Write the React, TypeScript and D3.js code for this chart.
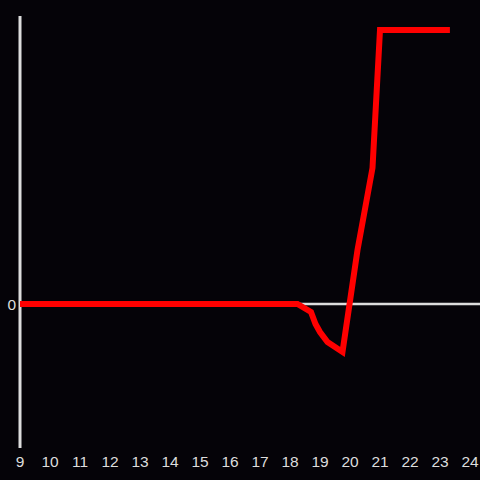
import React, { useEffect, useRef } from "react";
import * as d3 from "d3";

const xValues = [9, 18.25, 18.7, 18.85, 19.0, 19.25, 19.75, 20.25, 20.75, 21.0, 23.33];
const yValues = [0, 0, -8, -20, -28, -38, -48, 54, 136, 274, 274];
const xTicks = [9, 10, 11, 12, 13, 14, 15, 16, 17, 18, 19, 20, 21, 22, 23, 24];
const yTicks = [0];

export default function App() {
  const ref = useRef<SVGSVGElement>(null);
  useEffect(() => {
    const svg = d3.select(ref.current);
    svg.selectAll("*").remove();
    const W = 480, H = 480;
    const x = d3.scaleLinear().domain([9, 24]).range([20, 470]);
    const y = d3.scaleLinear().domain([-144, 288]).range([448, 16]);

    svg.append("rect").attr("width", W).attr("height", H).attr("fill", "#050308");

    svg.append("line")
      .attr("x1", x(9)).attr("x2", 480)
      .attr("y1", y(0)).attr("y2", y(0))
      .attr("stroke", "#dddddd").attr("stroke-width", 2.5);

    svg.append("line")
      .attr("x1", x(9)).attr("x2", x(9))
      .attr("y1", y(288)).attr("y2", y(-144))
      .attr("stroke", "#dddddd").attr("stroke-width", 3);

    const data = xValues.map((v, i) => [v, yValues[i]] as [number, number]);
    const line = d3.line<[number, number]>().x(d => x(d[0])).y(d => y(d[1]));
    svg.append("path").attr("d", line(data)!)
      .attr("fill", "none").attr("stroke", "#ff0000")
      .attr("stroke-width", 6).attr("stroke-linejoin", "miter");

    svg.selectAll("text.xt").data(xTicks).enter().append("text")
      .attr("class", "xt")
      .attr("x", d => x(d)).attr("y", 467)
      .attr("text-anchor", "middle")
      .attr("font-family", "'Liberation Sans', Arial, sans-serif")
      .attr("font-size", 15.5).attr("fill", "#dddddd")
      .text(d => String(d));

    svg.selectAll("text.yt").data(yTicks).enter().append("text")
      .attr("class", "yt")
      .attr("x", 16).attr("y", y(0) + 6)
      .attr("text-anchor", "end")
      .attr("font-family", "'Liberation Sans', Arial, sans-serif")
      .attr("font-size", 15.5).attr("fill", "#dddddd")
      .text(d => String(d));
  }, []);
  return (
    <svg ref={ref} width={480} height={480}
      style={{ position: "fixed", top: 0, left: 0, display: "block" }} />
  );
}
